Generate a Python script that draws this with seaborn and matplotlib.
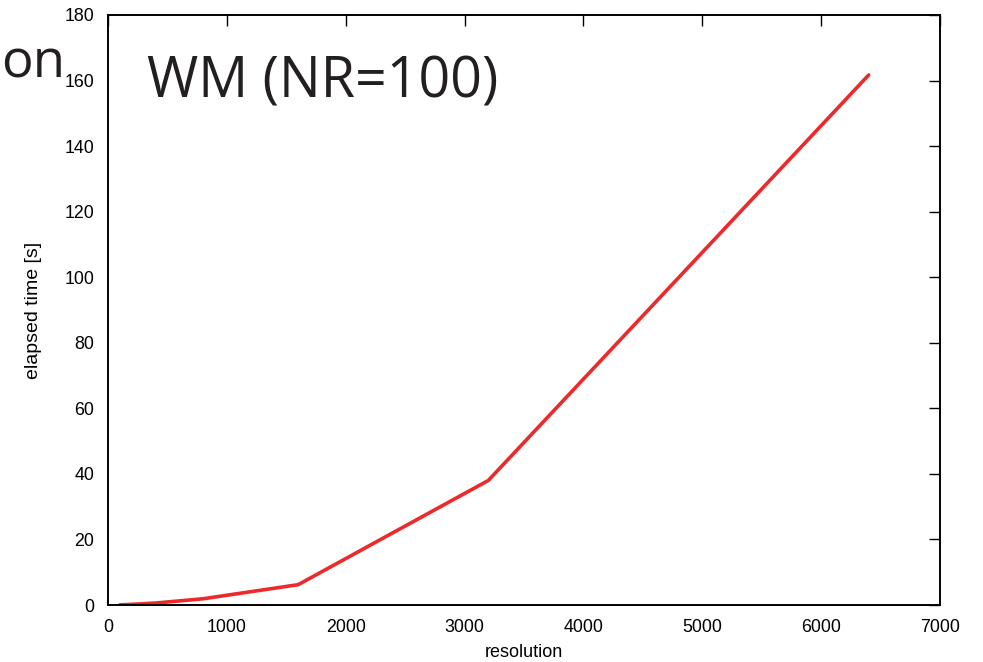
import matplotlib
matplotlib.use("Agg")
import matplotlib.pyplot as plt
import seaborn as sns
import pandas as pd

resolution = [100, 200, 400, 800, 1600, 3200, 6400]
elapsed = [0.05, 0.2, 0.6, 1.9, 6.2, 38.0, 161.7]
x_ticks = [0, 1000, 2000, 3000, 4000, 5000, 6000, 7000]
y_ticks = [0, 20, 40, 60, 80, 100, 120, 140, 160, 180]

sns.set_theme(style="white")
plt.rcParams['font.family'] = ['Liberation Sans', 'DejaVu Sans']

df = pd.DataFrame({"resolution": resolution, "elapsed": elapsed})

fig = plt.figure(figsize=(9.83, 6.62), dpi=100)
ax = fig.add_axes([108/983, 57/662, (940-108)/983, (605-15)/662])
sns.lineplot(data=df, x="resolution", y="elapsed", ax=ax, color="#ec2a2c", linewidth=2.6)

ax.set_xlim(0, 7000)
ax.set_ylim(0, 180)
ax.set_xticks(x_ticks)
ax.set_yticks(y_ticks)
ax.tick_params(direction="in", length=8, width=1.0, top=True, right=True,
               labelsize=12.8, colors="black")
ax.tick_params(axis="x", pad=10)
ax.tick_params(axis="y", pad=10)
for s in ax.spines.values():
    s.set_visible(True)
    s.set_color("black")
    s.set_linewidth(1.4)
ax.set_xlabel("resolution", fontsize=13, labelpad=6, color="black")
ax.set_ylabel("elapsed time [s]", fontsize=14, labelpad=16, color="black")

fig.text(147/983, 1 - 98/662, "WM (NR=100)", fontsize=40, family=['Open Sans', 'DejaVu Sans'],
         color="#231f20", ha="left", va="baseline")
fig.text(1/983, 1 - 78/662, "on", fontsize=38, family=['Open Sans', 'DejaVu Sans'],
         color="#231f20", ha="left", va="baseline")

fig.savefig("out.png", dpi=100)
